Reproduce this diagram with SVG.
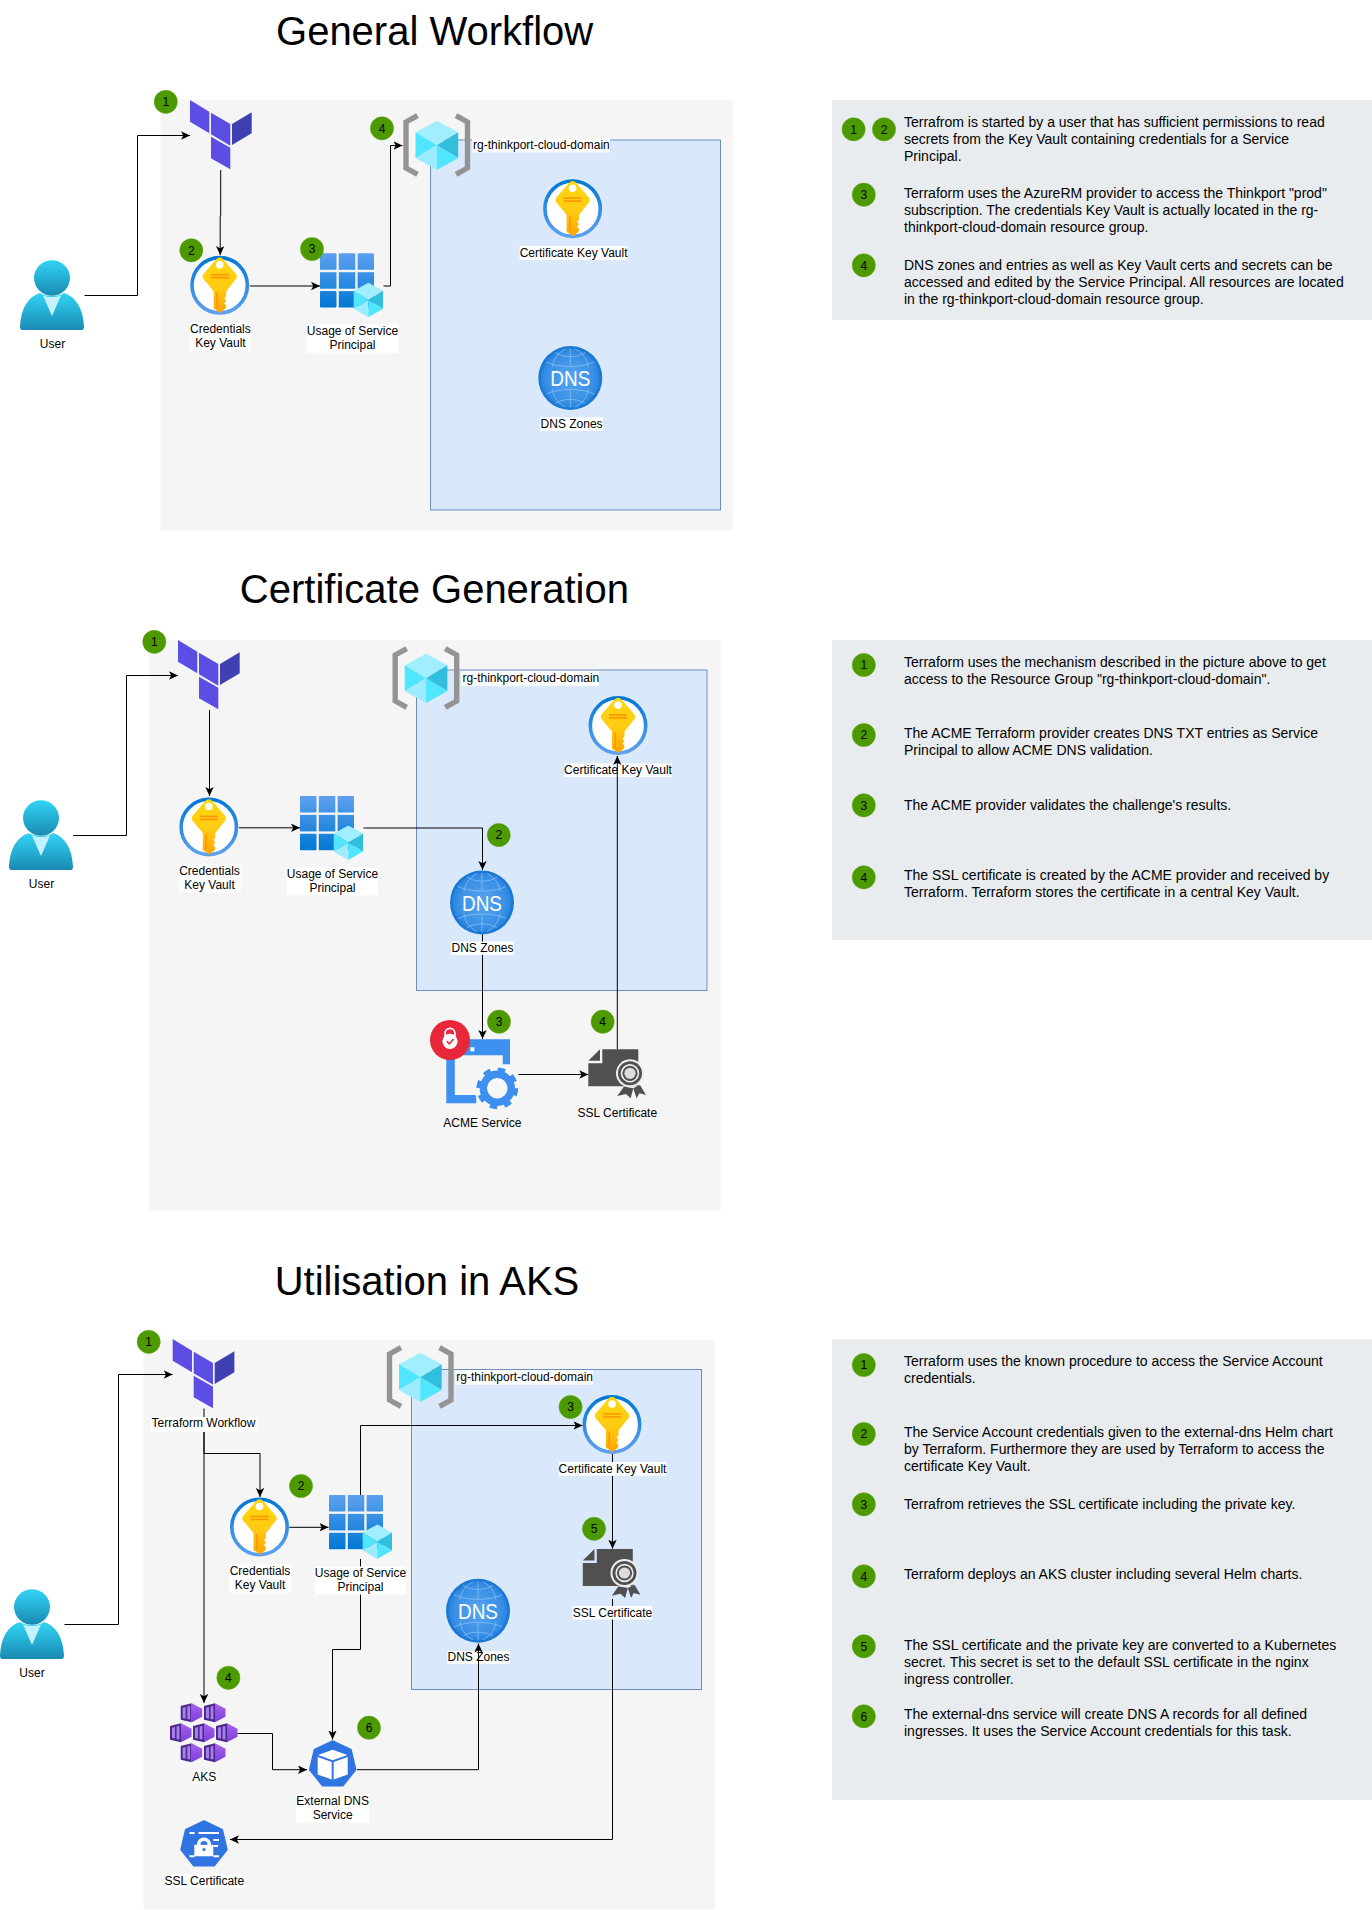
<svg xmlns="http://www.w3.org/2000/svg" xmlns:xlink="http://www.w3.org/1999/xlink" width="1372" height="1910" viewBox="0 0 1372 1910">
<style>
text{font-family:"Liberation Sans",Arial,sans-serif;fill:#000}
.title{font-size:40px;text-anchor:middle}
.lb{font-size:12px;text-anchor:middle}
.lbl{font-size:12px;text-anchor:start}
.p{font-size:14px}
.wbg{fill:#fff}
.panel{fill:#f5f5f5}
.rg{fill:#dae8fc;stroke:#6c8ebf;stroke-width:1}
.note{fill:#e9ecee}
.bd{fill:#4d9900;stroke:#5aa60f;stroke-width:.5}
.bt{font-size:12px;text-anchor:middle}
.dnst{font-size:22px;text-anchor:middle;fill:#fff}
.c{fill:none;stroke:#000;stroke-width:1;marker-end:url(#arr)}
</style>
<defs>
<marker id="arr" markerUnits="userSpaceOnUse" markerWidth="10" markerHeight="9" refX="9" refY="4.2" orient="auto"><path d="M0 0 L9 4.2 L0 8.4 L2.2 4.2 Z" fill="#000"/></marker>
<linearGradient id="guser" x1="0" y1="0" x2="0" y2="1"><stop offset="0" stop-color="#32d4f5"/><stop offset="1" stop-color="#198ab3"/></linearGradient>
<linearGradient id="gring" x1="0" y1="0" x2="0" y2="1"><stop offset="0" stop-color="#0078d4"/><stop offset="1" stop-color="#5ea0ef"/></linearGradient>
<linearGradient id="gkey" x1="0" y1="0" x2="0" y2="1"><stop offset="0" stop-color="#ffd70f"/><stop offset=".55" stop-color="#ffcb12"/><stop offset="1" stop-color="#ffa400"/></linearGradient>
<linearGradient id="ggrid" gradientUnits="userSpaceOnUse" x1="0" y1="0" x2="0" y2="54"><stop offset="0" stop-color="#5ea0ef"/><stop offset="1" stop-color="#0078d4"/></linearGradient>
<radialGradient id="gdns2"><stop offset="0" stop-color="#57a6f0"/><stop offset=".8" stop-color="#3a90e6"/><stop offset="1" stop-color="#2a84dd"/></radialGradient>
<linearGradient id="gaks" x1="0" y1="0" x2="0" y2="1"><stop offset="0" stop-color="#a662ec"/><stop offset="1" stop-color="#7c3fdc"/></linearGradient>
<g id="i-tf">
<polygon points="0,0 19.3,11.7 19.3,33.3 0,21.7" fill="#5c4ee5"/>
<polygon points="21,12.7 40.3,24 40.3,45.7 21,34.3" fill="#5c4ee5"/>
<polygon points="42,24 61.7,12.3 61.7,33.3 42,45" fill="#4040b2"/>
<polygon points="21,36.7 40.3,47.7 40.3,69.3 21,58.3" fill="#5c4ee5"/>
</g>
<g id="i-user">
<ellipse cx="32" cy="18" rx="18" ry="17.8" fill="url(#guser)"/>
<path d="M2.5 70 H61.5 Q64 70 64 66.5 C63 48 56 37 44 33 C40 37 24 37 20 33 C8 37 1 48 0 66.5 Q0 70 2.5 70Z" fill="url(#guser)"/>
<path d="M23 35.5 Q32 38.5 41 35.5 L32 56Z" fill="#c3f1ff"/>
</g>
<g id="i-kv">
<circle r="27.7" fill="#fff" stroke="url(#gring)" stroke-width="3.6"/>
<path d="M0 -27.8 Q2 -27.8 3.5 -26 L16.5 -11 Q18 -8.6 16.5 -6.5 L6.5 6 V11 L4.5 13 L6.5 15.5 L4.5 18 L6.5 20.5 L6 23 L0.3 27.6 L-6 23 V6 L-16.5 -6.5 Q-18 -8.6 -16.5 -11 L-3.5 -26 Q-2 -27.8 0 -27.8Z" fill="url(#gkey)"/>
<circle cy="-20.5" r="3.8" fill="#fff"/>
<rect x="-9" y="-11.4" width="18" height="1.6" fill="#ff9300"/>
<rect x="-9" y="-8.4" width="18" height="1.6" fill="#ff9300"/>
<path d="M-3.5 7 H-2 V22 L-3.5 23Z" fill="#ff9300"/>
</g>
<g id="i-cube">
<polygon points="22,0 44,11.8 22,25 0,11.8" fill="#a0eeff"/>
<polygon points="44,11.8 44,37.8 22,25" fill="#32bedd"/>
<polygon points="0,11.8 22,25 0,37.8" fill="#50e6ff"/>
<polygon points="0,37.8 22,25 22,50" fill="#9cebff"/>
<polygon points="44,37.8 22,25 22,50" fill="#50e6ff"/>
</g>
<g id="i-sp">
<g fill="url(#ggrid)">
<rect width="16.5" height="16.5" rx="1"/><rect x="18.8" width="16.5" height="16.5" rx=".5"/><rect x="37.6" width="16.4" height="16.5" rx="1"/>
<rect y="18.9" width="16.5" height="16.5"/><rect x="18.8" y="18.9" width="16.5" height="16.5"/><rect x="37.6" y="18.9" width="16.4" height="16.5"/>
<rect y="37.8" width="16.5" height="16.4" rx="1"/><rect x="18.8" y="37.8" width="16.5" height="16.4"/><rect x="37.6" y="37.8" width="16.4" height="16.4" rx="1"/>
</g>
<use href="#i-cube" transform="translate(33.7 29.4) scale(.666 .692)"/>
</g>
<g id="i-rg">
<polyline points="15,2.7 3.5,9 3.5,55 15,61.3" fill="none" stroke="#949494" stroke-width="5.4"/>
<polyline points="53.5,2.7 65,9 65,55 53.5,61.3" fill="none" stroke="#949494" stroke-width="5.4"/>
<use href="#i-cube" transform="translate(13 7.7) scale(.97 .986)"/>
</g>
<g id="i-dns">
<circle r="32" fill="#1a79d4"/>
<circle r="29.4" fill="url(#gdns2)"/>
<g fill="none" stroke="#8ec4f4" stroke-width=".9" opacity=".8">
<path d="M-15 -25.5 C-8 -20 8 -20 15 -25.5 M-24 -16 C-12 -10 12 -10 24 -16 M-24 16 C-12 10 12 10 24 16 M-15 25.5 C-8 20 8 20 15 25.5"/>
<path d="M-5 -29 C-14 -24 -17 -18 -18 -11 M5 -29 C14 -24 17 -18 18 -11 M0 -29.5 V-12 M0 12 V29.5 M-18 11 C-17 18 -14 24 -5 29 M18 11 C17 18 14 24 5 29"/>
</g>
</g>
<g id="i-acme">
<path d="M0 0 H63.7 V25 H56.5 V16 H8.5 V55.7 H30 V64 H0Z" fill="#3d8ff0"/>
<rect x="24" y="8" width="4" height="4" fill="#fff"/>
<circle cx="51" cy="49" r="23" fill="#f7f7f7"/>
<circle cx="51" cy="49" r="14" fill="none" stroke="#3d8ff0" stroke-width="7.4"/>
<circle cx="51" cy="49" r="18.6" fill="none" stroke="#3d8ff0" stroke-width="4.6" stroke-dasharray="7.3 7.3"/>
<circle cx="3.7" cy=".7" r="20" fill="#e8273b"/>
<path d="M-1.2 -3 V-6 A4.9 4.9 0 0 1 8.6 -6 V-3" fill="none" stroke="#fff" stroke-width="1.8"/>
<circle cx="3.7" cy="2" r="7.6" fill="#fff"/>
<path d="M0.5 2 L3 4.6 L7.3 -.4" fill="none" stroke="#e8273b" stroke-width="1.6"/>
</g>
<g id="i-ssl">
<polygon points="0,11.5 11.7,0 11.7,11.5" fill="#505050"/>
<path d="M14 0 H50 V37 H0 V14 H14Z" fill="#505050"/>
<polygon points="35.7,37.3 29,46.7 37.7,44.7 42.3,49 45,39" fill="#505050"/>
<polygon points="45,39 48.3,49 51,44 57.7,45.7 51.7,35.7" fill="#505050"/>
<circle cx="41.7" cy="24" r="14" fill="#eee"/>
<circle cx="41.7" cy="24" r="12" fill="#505050"/>
<circle cx="41.7" cy="24" r="9.2" fill="#eee"/>
<circle cx="41.7" cy="24" r="7.6" fill="#505050"/>
<circle cx="41.7" cy="24" r="5.6" fill="#ddd"/>
</g>
<g id="i-hex">
<polygon points="0,2.6 11,0 11,19 0,16.4" fill="#4b2a8c"/>
<polygon points="2,4.4 5,3.7 5,15.3 2,14.6" fill="#a97ff0"/>
<polygon points="6.6,3.3 9.4,2.7 9.4,16.3 6.6,15.7" fill="#a97ff0"/>
<polygon points="11,0 21.5,5.5 21.5,13.5 11,19" fill="url(#gaks)"/>
</g>
<g id="i-aks">
<use href="#i-hex" x="10.7" y=".3"/><use href="#i-hex" x="34" y=".3"/>
<use href="#i-hex" x="0" y="20.3"/><use href="#i-hex" x="23" y="20.3"/><use href="#i-hex" x="46" y="20.3"/>
<use href="#i-hex" x="10.7" y="40.3"/><use href="#i-hex" x="34" y="40.3"/>
</g>
<polygon id="i-hept" points="0,-23.5 18.4,-14.7 23,5.2 10.2,21.2 -10.2,21.2 -23,5.2 -18.4,-14.7" fill="#2f74e0" stroke="#2f74e0" stroke-width="1.5" stroke-linejoin="round"/>
<g id="i-ksvc">
<use href="#i-hept"/>
<polygon points="0,-14.7 14.7,-9.5 0,-4.3 -14.7,-9.5" fill="#fff"/>
<polygon points="-15,-7.5 -1,-2.6 -1,15 -15,10" fill="#fff"/>
<polygon points="1,-2.6 15,-7.5 15,10 1,15" fill="#fff"/>
</g>
<g id="i-ksec">
<use href="#i-hept"/>
<rect x="-9.7" y=".3" width="19" height="11.5" fill="#fff"/>
<path d="M-7 0 A7 7 0 0 1 7 0 V.5 H3.5 V0 A3.5 3.5 0 0 0 -3.5 0 V.5 H-7Z" fill="#fff"/>
<circle cy="5" r="1.6" fill="#2f74e0"/>
<path d="M-14.5 -11.5 H-9.5 M-5.5 -11.5 H15 M9.5 -4.5 H15 M9.5 1.5 H14 M-14.5 11.8 H-9.5 M9.5 11.8 H15" stroke="#fff" stroke-width="2" fill="none"/>
</g>
</defs>

<rect width="1372" height="1910" fill="#fff"/>

<g id="backgrounds">
<rect class="panel" x="160.5" y="100" width="572.5" height="430"/>
<rect class="rg" x="430.5" y="140" width="290" height="370"/>
<rect class="note" x="832" y="100" width="540" height="220"/>
<rect class="panel" x="149" y="640" width="571.5" height="570.5"/>
<rect class="rg" x="416.5" y="670" width="290.5" height="320.5"/>
<rect class="note" x="832" y="640" width="540" height="300"/>
<rect class="panel" x="143.5" y="1340" width="571.5" height="569"/>
<rect class="rg" x="411.5" y="1369.5" width="290" height="320"/>
<rect class="note" x="832" y="1339.5" width="540" height="460.5"/>
</g>

<text id="title-1" class="title" x="434.6" y="45">General Workflow</text>
<text id="title-2" class="title" x="434.4" y="603">Certificate Generation</text>
<text id="title-3" class="title" x="427" y="1295">Utilisation in AKS</text>

<g id="s1-notes">
<text class="p"><tspan x="904" y="126.7">Terrafrom is started by a user that has sufficient permissions to read</tspan><tspan x="904" y="143.7">secrets from the Key Vault containing credentials for a Service</tspan><tspan x="904" y="160.7">Principal.</tspan></text>
<text class="p"><tspan x="904" y="197.7">Terraform uses the AzureRM provider to access the Thinkport "prod"</tspan><tspan x="904" y="214.7">subscription. The credentials Key Vault is actually located in the rg-</tspan><tspan x="904" y="231.7">thinkport-cloud-domain resource group.</tspan></text>
<text class="p"><tspan x="904" y="270.3">DNS zones and entries as well as Key Vault certs and secrets can be</tspan><tspan x="904" y="287.3">accessed and edited by the Service Principal. All resources are located</tspan><tspan x="904" y="304.3">in the rg-thinkport-cloud-domain resource group.</tspan></text>
</g>
<g id="s2-notes">
<text class="p"><tspan x="904" y="666.7">Terraform uses the mechanism described in the picture above to get</tspan><tspan x="904" y="683.7">access to the Resource Group "rg-thinkport-cloud-domain".</tspan></text>
<text class="p"><tspan x="904" y="737.7">The ACME Terraform provider creates DNS TXT entries as Service</tspan><tspan x="904" y="754.7">Principal to allow ACME DNS validation.</tspan></text>
<text class="p"><tspan x="904" y="810">The ACME provider validates the challenge's results.</tspan></text>
<text class="p"><tspan x="904" y="880">The SSL certificate is created by the ACME provider and received by</tspan><tspan x="904" y="897">Terraform. Terraform stores the certificate in a central Key Vault.</tspan></text>
</g>
<g id="s3-notes">
<text class="p"><tspan x="904" y="1365.7">Terraform uses the known procedure to access the Service Account</tspan><tspan x="904" y="1382.7">credentials.</tspan></text>
<text class="p"><tspan x="904" y="1436.7">The Service Account credentials given to the external-dns Helm chart</tspan><tspan x="904" y="1453.7">by Terraform. Furthermore they are used by Terraform to access the</tspan><tspan x="904" y="1470.7">certificate Key Vault.</tspan></text>
<text class="p"><tspan x="904" y="1509">Terrafrom retrieves the SSL certificate including the private key.</tspan></text>
<text class="p"><tspan x="904" y="1579">Terraform deploys an AKS cluster including several Helm charts.</tspan></text>
<text class="p"><tspan x="904" y="1650">The SSL certificate and the private key are converted to a Kubernetes</tspan><tspan x="904" y="1667">secret. This secret is set to the default SSL certificate in the nginx</tspan><tspan x="904" y="1684">ingress controller.</tspan></text>
<text class="p"><tspan x="904" y="1719">The external-dns service will create DNS A records for all defined</tspan><tspan x="904" y="1736">ingresses. It uses the Service Account credentials for this task.</tspan></text>
</g>

<!-- Section 1 -->
<g id="s1-user"><use href="#i-user" x="20" y="260"/><text class="lb" x="52.5" y="348">User</text></g>
<g id="s1-terraform"><use href="#i-tf" x="190" y="100"/></g>
<g id="s1-kv"><use href="#i-kv" x="219.7" y="285.3"/><rect class="wbg" x="190" y="322.3" width="60.7" height="28.4"/><text class="lb"><tspan x="220.4" y="332.7">Credentials</tspan><tspan x="220.4" y="346.5">Key Vault</tspan></text></g>
<g id="s1-sp"><use href="#i-sp" x="320" y="253.3"/><rect class="wbg" x="306.7" y="324.3" width="91.6" height="28.4"/><text class="lb"><tspan x="352.5" y="334.5">Usage of Service</tspan><tspan x="352.5" y="348.5">Principal</tspan></text></g>
<g id="s1-rg"><rect class="wbg" x="472" y="139" width="138" height="13.5"/><use href="#i-rg" x="402.5" y="113"/><text class="lbl" x="473" y="148.7">rg-thinkport-cloud-domain</text></g>
<g id="s1-certkv"><use href="#i-kv" x="572.6" y="208.7"/><rect class="wbg" x="519.6" y="246" width="108" height="14"/><text class="lb" x="573.6" y="257">Certificate Key Vault</text></g>
<g id="s1-dns"><use href="#i-dns" x="570.3" y="378"/><text class="dnst" x="570.3" y="386" textLength="40" lengthAdjust="spacingAndGlyphs">DNS</text><rect class="wbg" x="540" y="417.3" width="63" height="13.5"/><text class="lb" x="571.6" y="428">DNS Zones</text></g>
<g id="s1-badges">
<g id="s1-b1"><circle class="bd" cx="165.8" cy="101.8" r="11.6"/><text class="bt" x="165.8" y="106">1</text></g>
<g id="s1-b2"><circle class="bd" cx="191.3" cy="250.3" r="11.6"/><text class="bt" x="191.3" y="254.5">2</text></g>
<g id="s1-b3"><circle class="bd" cx="312" cy="249" r="11.6"/><text class="bt" x="312" y="253.2">3</text></g>
<g id="s1-b4"><circle class="bd" cx="382" cy="128.3" r="11.6"/><text class="bt" x="382" y="132.5">4</text></g>
<g id="s1-n1"><circle class="bd" cx="853.6" cy="129.3" r="11.6"/><text class="bt" x="853.6" y="133.5">1</text></g>
<g id="s1-n2"><circle class="bd" cx="884" cy="129.3" r="11.6"/><text class="bt" x="884" y="133.5">2</text></g>
<g id="s1-n3"><circle class="bd" cx="863.8" cy="194.7" r="11.6"/><text class="bt" x="863.8" y="198.9">3</text></g>
<g id="s1-n4"><circle class="bd" cx="863.8" cy="265.3" r="11.6"/><text class="bt" x="863.8" y="269.5">4</text></g>
</g>

<!-- Section 2 -->
<g id="s2-user"><use href="#i-user" x="9" y="800"/><text class="lb" x="41.5" y="888">User</text></g>
<g id="s2-terraform"><use href="#i-tf" x="178" y="640"/></g>
<g id="s2-kv"><use href="#i-kv" x="208.8" y="827"/><rect class="wbg" x="178.4" y="864" width="62.3" height="28.5"/><text class="lb"><tspan x="209.5" y="875.2">Credentials</tspan><tspan x="209.5" y="889">Key Vault</tspan></text></g>
<g id="s2-sp"><use href="#i-sp" x="300" y="796"/><rect class="wbg" x="287" y="867.6" width="91" height="27.9"/><text class="lb"><tspan x="332.5" y="878">Usage of Service</tspan><tspan x="332.5" y="892">Principal</tspan></text></g>
<g id="s2-rg"><rect class="wbg" x="461" y="671" width="138" height="14.8"/><use href="#i-rg" x="391.7" y="646"/><text class="lbl" x="462.5" y="682">rg-thinkport-cloud-domain</text></g>
<g id="s2-certkv"><use href="#i-kv" x="618" y="725.5"/><rect class="wbg" x="564.4" y="763.5" width="107.6" height="13.5"/><text class="lb" x="618" y="774">Certificate Key Vault</text></g>
<g id="s2-dns"><use href="#i-dns" x="482" y="902.5"/><text class="dnst" x="482" y="910.5" textLength="40" lengthAdjust="spacingAndGlyphs">DNS</text><rect class="wbg" x="451" y="941.5" width="63" height="13.5"/><text class="lb" x="482.5" y="952">DNS Zones</text></g>
<g id="s2-acme"><use href="#i-acme" x="446.3" y="1039.3"/><text class="lb" x="482.3" y="1126.7">ACME Service</text></g>
<g id="s2-ssl"><use href="#i-ssl" x="588.3" y="1049.3"/><text class="lb" x="617.3" y="1116.7">SSL Certificate</text></g>
<g id="s2-badges">
<g id="s2-b1"><circle class="bd" cx="154.3" cy="641.8" r="11.6"/><text class="bt" x="154.3" y="646">1</text></g>
<g id="s2-b2"><circle class="bd" cx="498.8" cy="835" r="11.6"/><text class="bt" x="498.8" y="839.2">2</text></g>
<g id="s2-b3"><circle class="bd" cx="499" cy="1021.7" r="11.6"/><text class="bt" x="499" y="1025.9">3</text></g>
<g id="s2-b4"><circle class="bd" cx="602.7" cy="1021.7" r="11.6"/><text class="bt" x="602.7" y="1025.9">4</text></g>
<g id="s2-n1"><circle class="bd" cx="863.8" cy="665" r="11.6"/><text class="bt" x="863.8" y="669.2">1</text></g>
<g id="s2-n2"><circle class="bd" cx="863.8" cy="735" r="11.6"/><text class="bt" x="863.8" y="739.2">2</text></g>
<g id="s2-n3"><circle class="bd" cx="863.8" cy="805.3" r="11.6"/><text class="bt" x="863.8" y="809.5">3</text></g>
<g id="s2-n4"><circle class="bd" cx="863.8" cy="877.3" r="11.6"/><text class="bt" x="863.8" y="881.5">4</text></g>
</g>

<!-- Section 3 -->
<g id="s3-user"><use href="#i-user" x="0" y="1589"/><text class="lb" x="32" y="1677">User</text></g>
<g id="s3-terraform"><use href="#i-tf" x="172.7" y="1339"/><rect class="wbg" x="151" y="1417" width="106" height="15"/><text class="lb" x="203.5" y="1426.5">Terraform Workflow</text></g>
<g id="s3-kv"><use href="#i-kv" x="259.5" y="1527"/><rect class="wbg" x="229.4" y="1564.5" width="61.6" height="28.3"/><text class="lb"><tspan x="260" y="1575">Credentials</tspan><tspan x="260" y="1589">Key Vault</tspan></text></g>
<g id="s3-sp"><use href="#i-sp" x="329" y="1495"/><rect class="wbg" x="314.8" y="1566.4" width="91" height="28.2"/><text class="lb"><tspan x="360.5" y="1577.3">Usage of Service</tspan><tspan x="360.5" y="1591">Principal</tspan></text></g>
<g id="s3-rg"><rect class="wbg" x="455.4" y="1370" width="137.6" height="14.7"/><use href="#i-rg" x="386" y="1345"/><text class="lbl" x="456.3" y="1381">rg-thinkport-cloud-domain</text></g>
<g id="s3-certkv"><use href="#i-kv" x="612" y="1424.5"/><rect class="wbg" x="558.8" y="1462" width="107.6" height="13.8"/><text class="lb" x="612.5" y="1473">Certificate Key Vault</text></g>
<g id="s3-ssl"><use href="#i-ssl" x="582.8" y="1549"/><rect class="wbg" x="572.4" y="1606" width="79.8" height="13.5"/><text class="lb" x="612.5" y="1617">SSL Certificate</text></g>
<g id="s3-dns"><use href="#i-dns" x="478" y="1610.8"/><text class="dnst" x="478" y="1618.8" textLength="40" lengthAdjust="spacingAndGlyphs">DNS</text><rect class="wbg" x="447.4" y="1651" width="62.6" height="13"/><text class="lb" x="478.5" y="1661.2">DNS Zones</text></g>
<g id="s3-aks"><use href="#i-aks" x="170" y="1703"/><rect class="wbg" x="193" y="1771.7" width="23.7" height="12.3"/><text class="lb" x="204.3" y="1781">AKS</text></g>
<g id="s3-extdns"><use href="#i-ksvc" x="332.7" y="1764.5"/><rect class="wbg" x="296" y="1794.3" width="73" height="28.4"/><text class="lb"><tspan x="332.7" y="1804.7">External DNS</tspan><tspan x="332.7" y="1819">Service</tspan></text></g>
<g id="s3-secret"><use href="#i-ksec" x="204" y="1844.5"/><rect class="wbg" x="165" y="1874" width="79" height="14"/><text class="lb" x="204.3" y="1885">SSL Certificate</text></g>
<g id="s3-badges">
<g id="s3-b1"><circle class="bd" cx="148.7" cy="1341.8" r="11.6"/><text class="bt" x="148.7" y="1346">1</text></g>
<g id="s3-b2"><circle class="bd" cx="301" cy="1486" r="11.6"/><text class="bt" x="301" y="1490.2">2</text></g>
<g id="s3-b3"><circle class="bd" cx="570.6" cy="1407" r="11.6"/><text class="bt" x="570.6" y="1411.2">3</text></g>
<g id="s3-b4"><circle class="bd" cx="228.4" cy="1677.8" r="11.6"/><text class="bt" x="228.4" y="1682">4</text></g>
<g id="s3-b5"><circle class="bd" cx="594" cy="1528.8" r="11.6"/><text class="bt" x="594" y="1533">5</text></g>
<g id="s3-b6"><circle class="bd" cx="369" cy="1727.7" r="11.6"/><text class="bt" x="369" y="1731.9">6</text></g>
<g id="s3-n1"><circle class="bd" cx="863.8" cy="1365" r="11.6"/><text class="bt" x="863.8" y="1369.2">1</text></g>
<g id="s3-n2"><circle class="bd" cx="863.8" cy="1434" r="11.6"/><text class="bt" x="863.8" y="1438.2">2</text></g>
<g id="s3-n3"><circle class="bd" cx="863.8" cy="1504.3" r="11.6"/><text class="bt" x="863.8" y="1508.5">3</text></g>
<g id="s3-n4"><circle class="bd" cx="863.8" cy="1576.3" r="11.6"/><text class="bt" x="863.8" y="1580.5">4</text></g>
<g id="s3-n5"><circle class="bd" cx="863.8" cy="1646.3" r="11.6"/><text class="bt" x="863.8" y="1650.5">5</text></g>
<g id="s3-n6"><circle class="bd" cx="863.8" cy="1716.3" r="11.6"/><text class="bt" x="863.8" y="1720.5">6</text></g>
</g>

<g id="connectors">
<path class="c" d="M84.5 295.5 H137.5 V135.5 H190"/>
<path class="c" d="M220.7 170 V216 H220.2 V255"/>
<path class="c" d="M250 286 H320"/>
<path class="c" d="M383.5 286 H390.5 V145.5 H402.5"/>

<path class="c" d="M73 835.5 H126.5 V675.5 H178"/>
<path class="c" d="M209.5 710 V796"/>
<path class="c" d="M239 827.8 H300"/>
<path class="c" d="M363.5 828 H482.5 V870"/>
<path class="c" d="M482.5 934.5 V941.5 M482.5 955 V1039"/>
<path class="c" d="M518.5 1074.5 H588.3"/>
<path class="c" d="M617.3 1049 V756"/>

<path class="c" d="M64.5 1624.5 H118.5 V1374.5 H172.7"/>
<path class="c" d="M204 1408.5 V1417 M204 1432 V1703"/>
<path class="c" d="M204 1432 V1453.5 H260 V1497"/>
<path class="c" d="M289.3 1527.3 H328.5"/>
<path class="c" d="M360.5 1495 V1425.5 H582.5"/>
<path class="c" d="M612.5 1454 V1462 M612.5 1476 V1548.7"/>
<path class="c" d="M360.5 1559 V1566.4 M360.5 1594.6 V1649.5 H332.5 V1739.5"/>
<path class="c" d="M237.6 1733.5 H272.5 V1769.7 H307"/>
<path class="c" d="M357 1769.7 H478.5 V1643.5"/>
<path class="c" d="M612.5 1599 V1606 M612.5 1619.5 V1839.5 H230"/>
</g>
</svg>
